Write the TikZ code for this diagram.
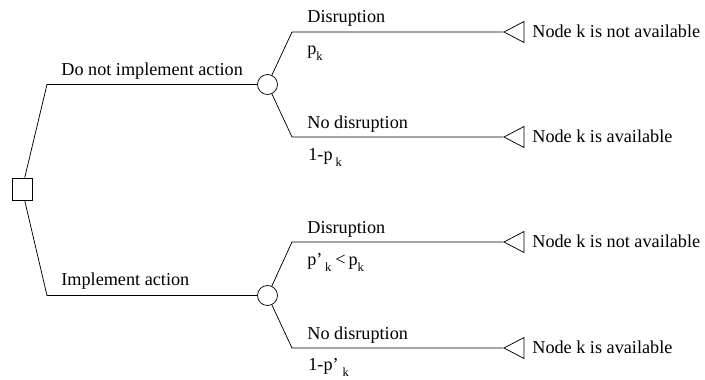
\documentclass[tikz,border=0pt]{standalone}
\usepackage{fontspec}
% no TeX-style quote mapping, so ' stays a straight prime mark
\setmainfont{Liberation Serif}[Ligatures=ResetAll]
\usetikzlibrary{shapes.geometric}
% lowered subscript letter as printed next to the probabilities
\newcommand{\lowsub}[1]{\raisebox{-6pt}{\fontsize{12.5}{14}\selectfont #1}}
\begin{document}
\begin{tikzpicture}[x=1pt,y=-1pt,line width=0.75pt,
  decision/.style={draw, rectangle, minimum width=20pt, minimum height=22pt, inner sep=0pt},
  chance/.style={draw, circle, minimum size=20pt, inner sep=0pt},
  leaf/.style={draw, isosceles triangle, shape border rotate=180,
    isosceles triangle stretches, minimum width=21pt, minimum height=20pt, inner sep=0pt},
  lbl/.style={anchor=base west, inner sep=0pt, font=\fontsize{18.2}{20}\selectfont}]
\useasboundingbox (0,0) rectangle (705,380);

% decision and chance nodes
\node[decision] (d) at (22,189) {};
\node[chance] (c1) at (267.5,84.5) {};
\node[chance] (c2) at (267.5,295.5) {};

% terminal triangles
\node[leaf, anchor=apex] (t1) at (503,32) {};
\node[leaf, anchor=apex] (t2) at (503,137) {};
\node[leaf, anchor=apex] (t3) at (503,242) {};
\node[leaf, anchor=apex] (t4) at (503,348) {};

% bends of the branches
\coordinate (k1) at (47,84.5);
\coordinate (k2) at (47,295.5);
\coordinate (b1) at (292,32);
\coordinate (b2) at (292,137);
\coordinate (b3) at (292,242);
\coordinate (b4) at (292,348);

% branches
\draw (d) -- (k1) -- (c1);
\draw (d) -- (k2) -- (c2);
\draw (c1) -- (b1) -- (t1.apex);
\draw (c1) -- (b2) -- (t2.apex);
\draw (c2) -- (b3) -- (t3.apex);
\draw (c2) -- (b4) -- (t4.apex);

% action labels
\node[lbl] (a1) at (61,75) {Do not implement action};
\node[lbl] (a2) at (61,285) {Implement action};

% outcome labels and probabilities
\node[lbl] (o1) at (307,23) {Disruption};
\node[lbl] (p1) at (307,54) {p\lowsub{k}};
\node[lbl] (o2) at (307,128) {No disruption};
\node[lbl] (p2) at (308,160) {1-p\kern3pt\lowsub{k}};
\node[lbl] (o3) at (307,233) {Disruption};
\node[lbl] (p3) at (307,265) {p'\kern2.5pt\lowsub{k}\kern4pt<\kern3pt p\lowsub{k}};
\node[lbl] (o4) at (307,339) {No disruption};
\node[lbl] (p4) at (308,370) {1-p'\kern4pt\lowsub{k}};

% outcome of each terminal
\node[lbl] (n1) at (532,37) {Node k is not available};
\node[lbl] (n2) at (532,142) {Node k is available};
\node[lbl] (n3) at (532,247) {Node k is not available};
\node[lbl] (n4) at (532,353) {Node k is available};
\end{tikzpicture}
\end{document}
